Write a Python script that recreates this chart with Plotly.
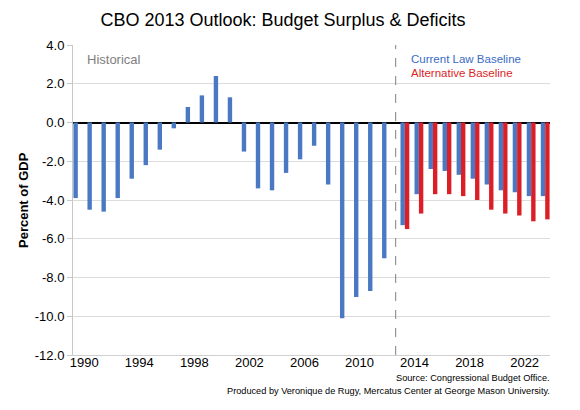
import plotly.graph_objects as go

# ---- data (percent of GDP) ----
hist_years = list(range(1990, 2013))
hist_vals = [-3.9, -4.5, -4.6, -3.9, -2.9, -2.2, -1.4, -0.3, 0.8, 1.4, 2.4, 1.3,
             -1.5, -3.4, -3.5, -2.6, -1.9, -1.2, -3.2, -10.1, -9.0, -8.7, -7.0]
proj_years = list(range(2013, 2024))
current_law = [-5.3, -3.7, -2.4, -2.5, -2.7, -2.9, -3.2, -3.5, -3.6, -3.8, -3.8]
alternative = [-5.5, -4.7, -3.7, -3.7, -3.8, -4.0, -4.5, -4.7, -4.8, -5.1, -5.0]
tick_years = [1990, 1994, 1998, 2002, 2006, 2010, 2014, 2018, 2022]
y_ticks = [4, 2, 0, -2, -4, -6, -8, -10, -12]

BLUE = "#4a78c2"
RED = "#dc1f26"
FONT = "Liberation Sans, Arial, sans-serif"

fig = go.Figure()
fig.add_trace(go.Bar(x=hist_years, y=hist_vals, marker_color=BLUE,
                     marker_line_width=0, name="Historical"))
fig.add_trace(go.Bar(x=proj_years, y=current_law, marker_color=BLUE,
                     marker_line_width=0, name="Current Law Baseline"))
fig.add_trace(go.Bar(x=proj_years, y=alternative, marker_color=RED,
                     marker_line_width=0, name="Alternative Baseline"))

# label positions drift slightly relative to categories in the original
tickvals = [y + 0.3 - 0.019 * (y - 1990) for y in tick_years]

fig.update_layout(
    width=580, height=410,
    margin=dict(l=73, r=30, t=45, b=55),
    paper_bgcolor="white", plot_bgcolor="white",
    barmode="group", bargap=0.06, bargroupgap=0,
    showlegend=False,
    font=dict(family=FONT, color="black", size=13),
    title=dict(text="CBO 2013 Outlook: Budget Surplus & Deficits",
               x=283 / 580, xanchor="center", y=1 - 20 / 410, yanchor="middle",
               font=dict(size=18, family=FONT, color="black")),
    xaxis=dict(range=[1989.5, 2023.5], tickmode="array", tickvals=tickvals,
               ticktext=[str(y) for y in tick_years], showgrid=False,
               showline=True, linecolor="#d0d0d0", linewidth=1, ticks="",
               tickfont=dict(size=13), zeroline=False, ticklabelstandoff=-5),
    yaxis=dict(range=[-12, 4], tickmode="array", tickvals=y_ticks,
               ticktext=[f"{v:.1f}" for v in y_ticks],
               showgrid=True, gridcolor="#dcdcdc", gridwidth=1,
               showline=True, linecolor="#c8c8c8", linewidth=1,
               ticks="outside", ticklen=5, tickcolor="#c8c8c8",
               tickfont=dict(size=13), zeroline=True, zerolinecolor="black",
               zerolinewidth=2),
)

fig.add_shape(type="line", x0=2012.5, x1=2012.5, yref="paper", y0=0, y1=1,
              line=dict(color="#808080", width=1, dash="dash"))

fig.add_annotation(text="Percent of GDP", xref="paper", yref="paper",
                   x=(23 - 73) / 477, y=0.5, textangle=-90, showarrow=False,
                   xanchor="center", yanchor="middle",
                   font=dict(size=13, family=FONT, color="black", weight="bold"))
fig.add_annotation(text="Historical", xref="paper", yref="paper",
                   x=(85 - 73) / 477, y=1 - (60 - 45) / 310, showarrow=False,
                   xanchor="left", yanchor="middle",
                   font=dict(size=13, color="#808080"))
fig.add_annotation(text="Current Law Baseline", xref="paper", yref="paper",
                   x=(409 - 73) / 477, y=1 - (58.5 - 45) / 310, showarrow=False,
                   xanchor="left", yanchor="middle",
                   font=dict(size=11.5, color="#3a6bc4"))
fig.add_annotation(text="Alternative Baseline", xref="paper", yref="paper",
                   x=(409 - 73) / 477, y=1 - (72.5 - 45) / 310, showarrow=False,
                   xanchor="left", yanchor="middle",
                   font=dict(size=11.5, color=RED))
fig.add_annotation(text="Source: Congressional Budget Office.", xref="paper",
                   yref="paper", x=1.004, y=1 - (378 - 45) / 310, showarrow=False,
                   xanchor="right", yanchor="middle", font=dict(size=9.2))
fig.add_annotation(text="Produced by Veronique de Rugy, Mercatus Center at George Mason University.",
                   xref="paper", yref="paper", x=1.004, y=1 - (391 - 45) / 310,
                   showarrow=False, xanchor="right", yanchor="middle",
                   font=dict(size=9.2))

fig.write_html("out.html", config={"displayModeBar": False},
               post_script="document.body.style.margin='0px';")
